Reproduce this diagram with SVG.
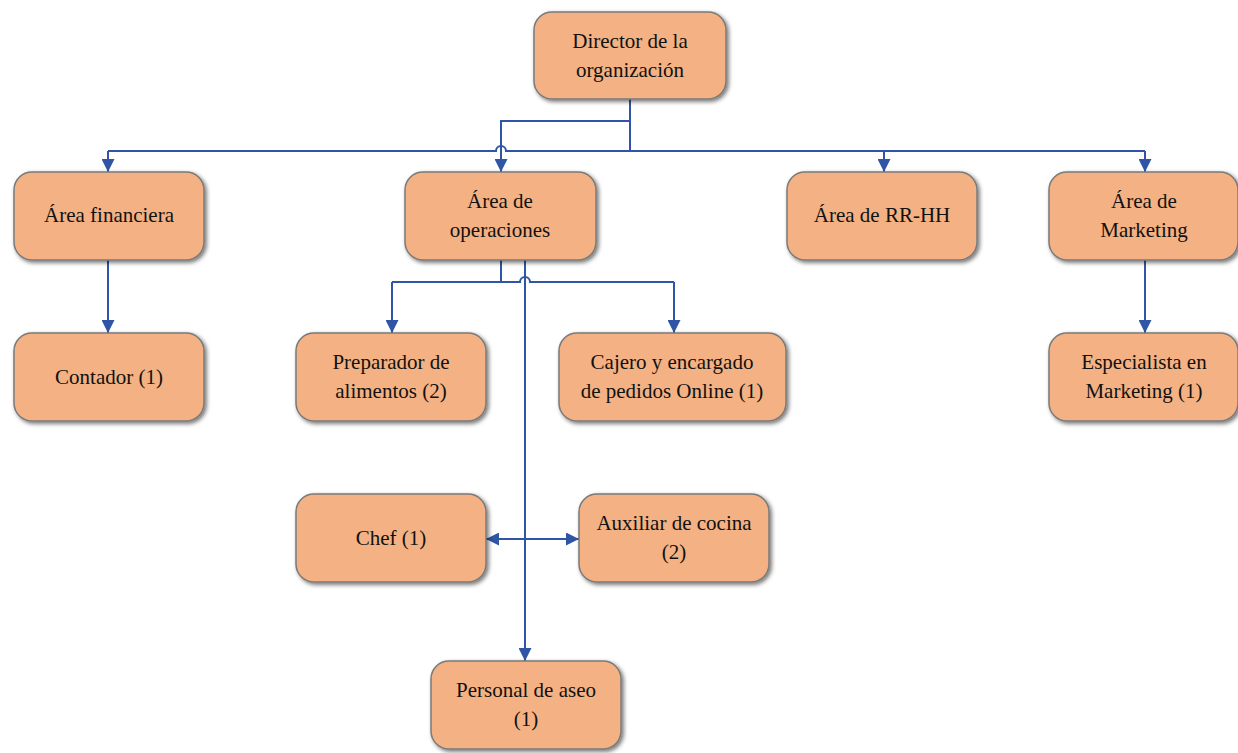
<svg xmlns="http://www.w3.org/2000/svg" width="1238" height="753" viewBox="0 0 1238 753">
<style>
.box{fill:#F4B183;stroke:#7a7a7a;stroke-width:1.5;filter:url(#sh)}
.t{font-family:"Liberation Serif",serif;font-size:21px;fill:#111;text-anchor:middle}
.c{fill:none;stroke:#2F55A4;stroke-width:2}
</style>
<defs>
<filter id="sh" x="-10%" y="-10%" width="130%" height="130%">
<feDropShadow dx="2" dy="2" stdDeviation="2" flood-color="#000" flood-opacity="0.55"/>
</filter>
<marker id="a" viewBox="0 0 10 10" refX="10" refY="5" markerWidth="14" markerHeight="13" markerUnits="userSpaceOnUse" orient="auto">
<path d="M0,0 L10,5 L0,10 z" fill="#2F55A4"/>
</marker>
</defs>
<rect width="1238" height="753" fill="#fff"/>
<g id="connectors">
<path class="c" d="M630,98 V151"/>
<path class="c" d="M108,151 H496 A5,5 0 0 1 506,151 H1145"/>
<path class="c" d="M630,121 H501 V172" marker-end="url(#a)"/>
<path class="c" d="M108,151 V172" marker-end="url(#a)"/>
<path class="c" d="M884,151 V172" marker-end="url(#a)"/>
<path class="c" d="M1145,151 V172" marker-end="url(#a)"/>
<path class="c" d="M108,260 V333" marker-end="url(#a)"/>
<path class="c" d="M1145,260 V333" marker-end="url(#a)"/>
<path class="c" d="M501,260 V282"/>
<path class="c" d="M392,282 H520 A5,5 0 0 1 530,282 H674"/>
<path class="c" d="M392,282 V333" marker-end="url(#a)"/>
<path class="c" d="M674,282 V333" marker-end="url(#a)"/>
<path class="c" d="M525,260 V661" marker-end="url(#a)"/>
<path class="c" d="M525,539 H486" marker-end="url(#a)"/>
<path class="c" d="M525,539 H579" marker-end="url(#a)"/>
</g>
<g id="director"><rect class="box" x="534" y="12" width="192" height="87" rx="18"/><text class="t" x="630" y="48">Director de la</text><text class="t" x="630" y="77">organización</text></g>
<g id="financiera"><rect class="box" x="14" y="172" width="190" height="88" rx="18"/><text class="t" x="109" y="222">Área financiera</text></g>
<g id="operaciones"><rect class="box" x="405" y="172" width="191" height="88" rx="18"/><text class="t" x="500" y="208">Área de</text><text class="t" x="500" y="237">operaciones</text></g>
<g id="rrhh"><rect class="box" x="787" y="172" width="190" height="88" rx="18"/><text class="t" x="882" y="222">Área de RR-HH</text></g>
<g id="marketing"><rect class="box" x="1049" y="172" width="189" height="88" rx="18"/><text class="t" x="1144" y="208">Área de</text><text class="t" x="1144" y="237">Marketing</text></g>
<g id="contador"><rect class="box" x="14" y="333" width="190" height="88" rx="18"/><text class="t" x="109" y="384">Contador (1)</text></g>
<g id="preparador"><rect class="box" x="296" y="333" width="190" height="88" rx="18"/><text class="t" x="391" y="369">Preparador de</text><text class="t" x="391" y="398">alimentos (2)</text></g>
<g id="cajero"><rect class="box" x="559" y="333" width="227" height="88" rx="18"/><text class="t" x="672" y="369">Cajero y encargado</text><text class="t" x="672" y="398">de pedidos Online (1)</text></g>
<g id="especialista"><rect class="box" x="1049" y="333" width="189" height="88" rx="18"/><text class="t" x="1144" y="369">Especialista en</text><text class="t" x="1144" y="398">Marketing (1)</text></g>
<g id="chef"><rect class="box" x="296" y="494" width="190" height="88" rx="18"/><text class="t" x="391" y="545">Chef (1)</text></g>
<g id="auxiliar"><rect class="box" x="579" y="494" width="190" height="88" rx="18"/><text class="t" x="674" y="530">Auxiliar de cocina</text><text class="t" x="674" y="559">(2)</text></g>
<g id="aseo"><rect class="box" x="431" y="661" width="190" height="88" rx="18"/><text class="t" x="526" y="697">Personal de aseo</text><text class="t" x="526" y="726">(1)</text></g>
</svg>
